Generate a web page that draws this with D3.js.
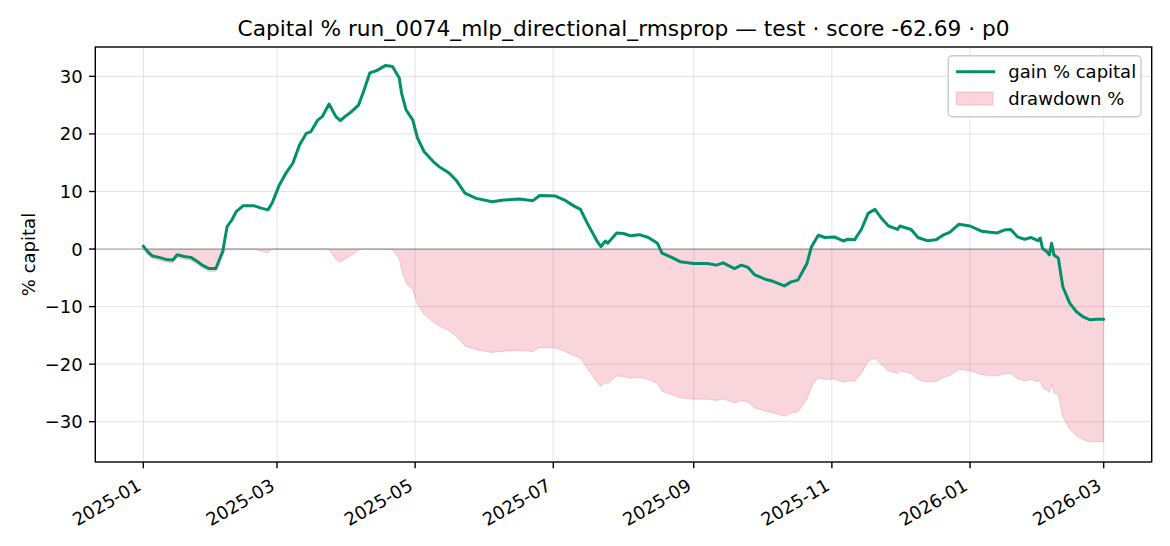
<!DOCTYPE html>
<html>
<head>
<meta charset="utf-8">
<script src="https://cdn.jsdelivr.net/npm/d3@7/dist/d3.min.js"></script>
<style>
  html, body { margin: 0; padding: 0; background: #fff; }
  svg { display: block; font-family: "DejaVu Sans", sans-serif; }
</style>
</head>
<body>
<svg id="chart" width="1170" height="546"></svg>
<script>
// ---- data ----
const titleText = "Capital % run_0074_mlp_directional_rmsprop \u2014 test \u00b7 score -62.69 \u00b7 p0";
const yLabel = "% capital";
const seriesNames = ["gain % capital", "drawdown %"];
const startDate = "2025-01-01";
// days elapsed since startDate for each sample
const dayOffsets = [0, 2, 4, 7, 10, 13, 15, 18, 21, 24, 26, 29, 32, 35, 37, 39, 41, 44, 49, 52,
  55, 57, 60, 63, 66, 69, 72, 74, 77, 79, 82, 85, 87, 89, 92, 95, 97, 100, 103, 107,
  110, 113, 114, 116, 119, 121, 124, 128, 131, 135, 138, 142, 147, 154, 159, 166, 172, 175, 182, 186,
  190, 193, 196, 200, 202, 204, 205, 209, 212, 215, 219, 223, 227, 229, 233, 237, 243, 249, 253, 256,
  261, 264, 267, 270, 275, 278, 283, 286, 289, 293, 295, 298, 301, 305, 309, 311, 314, 317, 320, 323,
  326, 329, 333, 334, 339, 342, 346, 350, 353, 356, 360, 365, 370, 374, 377, 380, 383, 386, 389, 392,
  395, 396, 397, 399, 400, 401, 402, 404, 405, 406, 409, 412, 415, 418, 421, 424];
// gain % of capital
const gainPct = [0.5, -0.5, -1.2, -1.45, -1.8, -1.9, -1.0, -1.3, -1.45, -2.2, -2.8, -3.4, -3.4, -0.5, 3.9, 5.0, 6.5, 7.5, 7.5, 7.1,
  6.8, 8.1, 11.1, 13.2, 14.9, 18.1, 20.1, 20.4, 22.4, 23.0, 25.2, 23.0, 22.3, 23.0, 23.9, 25.0, 27.1, 30.6, 31.0, 31.9,
  31.7, 29.7, 27.1, 24.2, 22.4, 19.3, 16.9, 15.2, 14.2, 13.2, 12.0, 9.7, 8.8, 8.2, 8.5, 8.7, 8.4, 9.3, 9.2, 8.5,
  7.5, 6.9, 4.5, 1.6, 0.4, 1.4, 1.0, 2.8, 2.7, 2.3, 2.5, 2.0, 1.0, -0.7, -1.4, -2.2, -2.5, -2.5, -2.8, -2.4,
  -3.4, -2.8, -3.2, -4.5, -5.3, -5.6, -6.4, -5.7, -5.4, -2.5, 0.4, 2.4, 2.0, 2.1, 1.4, 1.7, 1.6, 3.4, 6.2, 6.9,
  5.3, 4.0, 3.4, 4.0, 3.4, 2.0, 1.45, 1.6, 2.4, 2.9, 4.3, 4.0, 3.1, 2.9, 2.8, 3.3, 3.4, 2.1, 1.7, 2.0,
  1.45, 1.9, 0.1, -0.5, -1.0, 1.0, -1.0, -1.6, -4.2, -6.6, -9.4, -10.9, -11.8, -12.3, -12.2, -12.2];
const yTicks = [-30, -20, -10, 0, 10, 20, 30];
const yLimits = [-37.0, 35.1];

// ---- derived rows ----
const t0 = new Date(startDate + "T00:00:00Z");
const DAY = 86400000;
let peak = -Infinity;
const rows = dayOffsets.map((d, i) => {
  const g = gainPct[i];
  peak = Math.max(peak, g);
  const dd = ((100 + g) / (100 + peak) - 1) * 100;
  return { date: new Date(t0.getTime() + d * DAY), gain: g, dd: dd };
});

// ---- layout ----
const W = 1170, H = 546;
const margin = { left: 95.3, right: W - 1151.7, top: 47, bottom: H - 462 };
const green = "#00916a";
const pink = "crimson";

const svg = d3.select("#chart");

const ext = d3.extent(rows, r => r.date);
const span = ext[1] - ext[0];
const x = d3.scaleUtc()
  .domain([new Date(+ext[0] - 0.05 * span), new Date(+ext[1] + 0.05 * span)])
  .range([margin.left, W - margin.right]);
const y = d3.scaleLinear().domain(yLimits).range([H - margin.bottom, margin.top]);

const xTicks = x.ticks(d3.utcMonth.every(2));
const fmt = d3.utcFormat("%Y-%m");

// grid
const grid = svg.append("g");
grid.selectAll("line.gx").data(xTicks).join("line")
  .attr("x1", d => x(d)).attr("x2", d => x(d))
  .attr("y1", margin.top).attr("y2", H - margin.bottom)
  .attr("stroke", "#b0b0b0").attr("stroke-opacity", 0.35).attr("stroke-width", 1);
grid.selectAll("line.gy").data(yTicks).join("line")
  .attr("x1", margin.left).attr("x2", W - margin.right)
  .attr("y1", d => y(d)).attr("y2", d => y(d))
  .attr("stroke", "#b0b0b0").attr("stroke-opacity", 0.35).attr("stroke-width", 1);

// drawdown area
const area = d3.area().x(r => x(r.date)).y0(y(0)).y1(r => y(r.dd));
svg.append("path").datum(rows).attr("d", area)
  .attr("fill", pink).attr("fill-opacity", 0.18)
  .attr("stroke", pink).attr("stroke-opacity", 0.18).attr("stroke-width", 1);

// zero line
svg.append("line")
  .attr("x1", margin.left).attr("x2", W - margin.right)
  .attr("y1", y(0)).attr("y2", y(0))
  .attr("stroke", "#5a6f80").attr("stroke-opacity", 0.5).attr("stroke-width", 1.3);

// gain line
const line = d3.line().x(r => x(r.date)).y(r => y(r.gain));
svg.append("path").datum(rows).attr("d", line)
  .attr("fill", "none").attr("stroke", green).attr("stroke-width", 3)
  .attr("stroke-linejoin", "round").attr("stroke-linecap", "round");

// spines
svg.append("rect")
  .attr("x", margin.left).attr("y", margin.top)
  .attr("width", W - margin.right - margin.left)
  .attr("height", H - margin.bottom - margin.top)
  .attr("fill", "none").attr("stroke", "#000").attr("stroke-width", 1.4);

// x ticks
const xAx = svg.append("g");
xAx.selectAll("line").data(xTicks).join("line")
  .attr("x1", d => x(d)).attr("x2", d => x(d))
  .attr("y1", H - margin.bottom).attr("y2", H - margin.bottom + 6.3)
  .attr("stroke", "#000").attr("stroke-width", 1.4);
xAx.selectAll("text").data(xTicks).join("text")
  .attr("transform", d => `translate(${x(d) - 1},${489}) rotate(-30)`)
  .attr("text-anchor", "end")
  .attr("font-size", 18).attr("fill", "#000")
  .text(d => fmt(d));

// y ticks
const yAx = svg.append("g");
yAx.selectAll("line").data(yTicks).join("line")
  .attr("x1", margin.left - 6.3).attr("x2", margin.left)
  .attr("y1", d => y(d)).attr("y2", d => y(d))
  .attr("stroke", "#000").attr("stroke-width", 1.4);
yAx.selectAll("text").data(yTicks).join("text")
  .attr("x", margin.left - 12.6).attr("y", d => y(d))
  .attr("dy", "0.36em")
  .attr("text-anchor", "end")
  .attr("font-size", 18).attr("fill", "#000")
  .text(d => d < 0 ? "\u2212" + Math.abs(d) : String(d));

// y label
svg.append("text")
  .attr("transform", `translate(35,${(margin.top + H - margin.bottom) / 2}) rotate(-90)`)
  .attr("text-anchor", "middle").attr("font-size", 18).attr("fill", "#000")
  .text(yLabel);

// title
svg.append("text")
  .attr("x", (margin.left + W - margin.right) / 2).attr("y", 36)
  .attr("text-anchor", "middle").attr("font-size", 21.7).attr("fill", "#000")
  .text(titleText);

// legend
const lg = svg.append("g");
lg.append("rect").attr("x", 948.3).attr("y", 55.7).attr("width", 192.7).attr("height", 61)
  .attr("rx", 4).attr("fill", "#fff").attr("fill-opacity", 0.8)
  .attr("stroke", "#cccccc").attr("stroke-width", 1.4);
lg.append("line").attr("x1", 956).attr("x2", 995).attr("y1", 71.7).attr("y2", 71.7)
  .attr("stroke", green).attr("stroke-width", 3);
lg.append("text").attr("x", 1008.3).attr("y", 78).attr("font-size", 18).attr("fill", "#000")
  .text(seriesNames[0]);
lg.append("rect").attr("x", 956.5).attr("y", 92).attr("width", 36.5).attr("height", 13)
  .attr("fill", pink).attr("fill-opacity", 0.18)
  .attr("stroke", pink).attr("stroke-opacity", 0.18).attr("stroke-width", 1);
lg.append("text").attr("x", 1008.3).attr("y", 105).attr("font-size", 18).attr("fill", "#000")
  .text(seriesNames[1]);
</script>
</body>
</html>
